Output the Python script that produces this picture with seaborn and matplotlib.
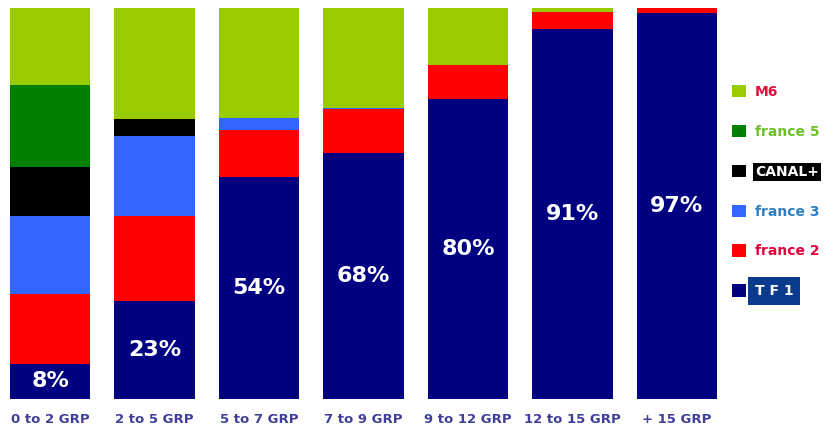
import matplotlib
matplotlib.use("Agg")
import matplotlib.pyplot as plt
import seaborn as sns
import pandas as pd
import numpy as np
from matplotlib.patches import Patch

# ---- data (share of contacts, %) ----
categories = ["0 to 2 GRP", "2 to 5 GRP", "5 to 7 GRP", "7 to 9 GRP",
              "9 to 12 GRP", "12 to 15 GRP", "+ 15 GRP"]
tf1 = [9.0, 25.0, 56.7, 62.9, 76.7, 94.6, 98.7]
france2 = [17.9, 21.8, 12.0, 11.2, 8.7, 4.3, 1.3]
france3 = [19.9, 20.5, 3.1, 0.4, 0.0, 0.0, 0.0]
canal = [12.6, 4.4, 0.0, 0.0, 0.0, 0.0, 0.0]
france5 = [20.9, 0.0, 0.0, 0.0, 0.0, 0.0, 0.0]
m6 = [19.7, 28.3, 28.2, 25.5, 14.6, 1.1, 0.0]
tf1_labels = ["8%", "23%", "54%", "68%", "80%", "91%", "97%"]

channels = ["TF1", "France 2", "France 3", "CANAL+", "France 5", "M6"]
series = [tf1, france2, france3, canal, france5, m6]
colors = ["#000080", "#ff0000", "#3366ff", "#000000", "#008000", "#99cc00"]

df = pd.DataFrame({"cat": categories})
for name, vals in zip(channels, series):
    df[name] = vals
cum = df[channels].cumsum(axis=1)

sns.set_style("white")
fig = plt.figure(figsize=(8.39, 4.30), dpi=100)
ax = fig.add_axes([10 / 839, (430 - 398.7) / 430, 707 / 839, 390.7 / 430])

# stacked bars: draw cumulative totals from top layer down
for name, col in reversed(list(zip(channels, colors))):
    sns.barplot(x=df["cat"], y=cum[name], color=col, width=0.77,
                saturation=1, ax=ax, linewidth=0, order=categories)

for i, (v, lab) in enumerate(zip(tf1, tf1_labels)):
    ax.text(i, v / 2, lab, ha="center", va="center", color="white",
            fontsize=16, fontweight="bold", family="DejaVu Sans")

ax.set_xlim(-0.385, 6.385)
ax.set_ylim(0, 100)
ax.set_xlabel("")
ax.set_ylabel("")
ax.set_yticks([])
for s in ax.spines.values():
    s.set_visible(False)
ax.tick_params(axis="x", length=0, pad=10)
for t in ax.get_xticklabels():
    t.set_fontsize(9.5)
    t.set_fontweight("bold")
    t.set_color("#40409a")

# legend (top: M6, bottom: TF1)
handles = [Patch(facecolor=c, edgecolor="none") for c in reversed(colors)]
leg_labels = ["M6", "france 5", "CANAL+", "france 3", "france 2", "T F 1"]
leg = ax.legend(handles, leg_labels, loc="upper left",
                bbox_to_anchor=(732 / 839, (430 - 85) / 430),
                bbox_transform=fig.transFigure, frameon=False, borderpad=0,
                borderaxespad=0, handlelength=1.0, handleheight=1.0,
                handletextpad=0.65, labelspacing=1.86,
                prop={"size": 10, "weight": "bold"})
styles = [
    dict(color="#e0103a", bbox=None),
    dict(color="#6abf2a", bbox=None),
    dict(color="white", bbox=dict(facecolor="black", edgecolor="none", pad=1.5)),
    dict(color="#2d7fc1", bbox=None),
    dict(color="#e2003a", bbox=None),
    dict(color="white", bbox=dict(facecolor="#0b3b8c", edgecolor="none", pad=5)),
]
for t, st in zip(leg.get_texts(), styles):
    t.set_color(st["color"])
    if st["bbox"] is not None:
        t.set_bbox(st["bbox"])

fig.savefig("out.png", dpi=100)
